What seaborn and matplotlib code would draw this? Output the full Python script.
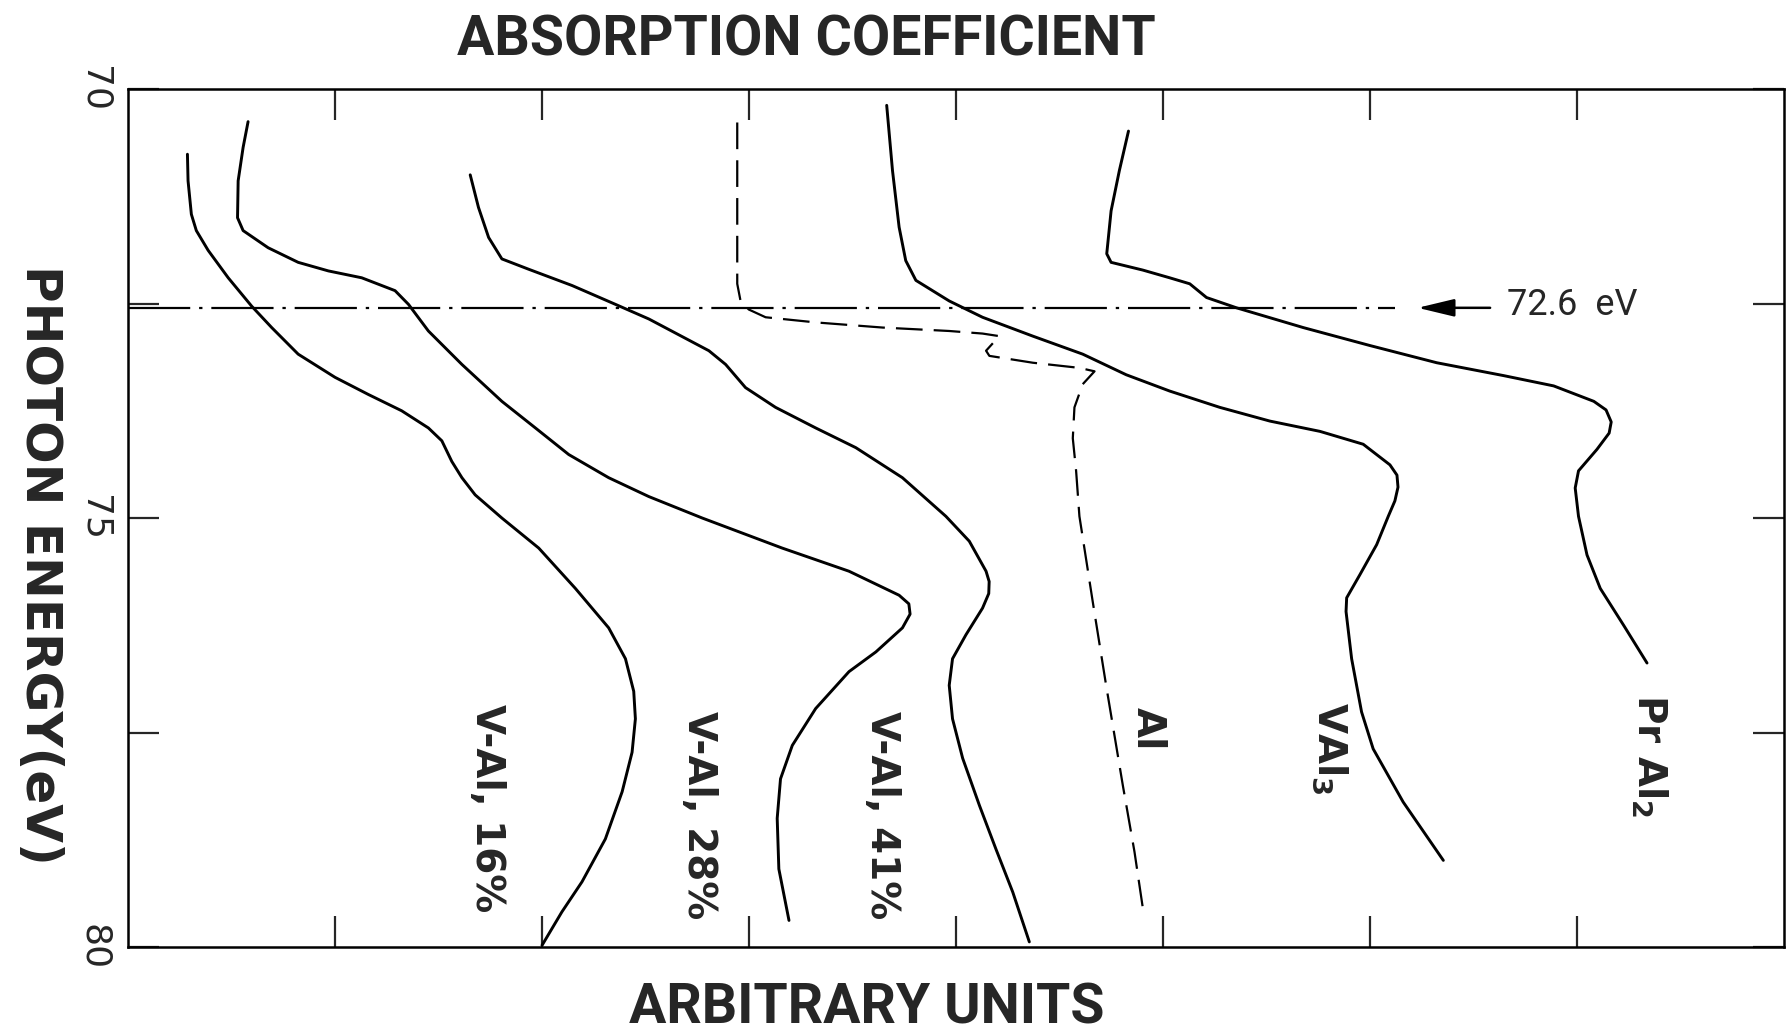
import matplotlib
matplotlib.use("Agg")
import matplotlib.pyplot as plt
import seaborn as sns
import pandas as pd

# ---------------- data (x: arbitrary units, E: photon energy in eV) ----------------
val16_x = [0.287, 0.290, 0.306, 0.330, 0.387, 0.484, 0.597, 0.694, 0.822, 1.000, 1.161, 1.322, 1.451,
           1.516, 1.564, 1.613, 1.677, 1.806, 1.984, 2.161, 2.322, 2.403, 2.443, 2.451, 2.435, 2.387,
           2.306, 2.193, 2.096, 2.000]
val16_E = [70.76, 71.07, 71.46, 71.65, 71.88, 72.20, 72.53, 72.78, 73.09, 73.36, 73.56, 73.75, 73.95,
           74.10, 74.34, 74.53, 74.73, 75.00, 75.35, 75.82, 76.28, 76.64, 77.02, 77.34, 77.73, 78.19,
           78.74, 79.24, 79.59, 79.98]

val28_x = [0.580, 0.556, 0.532, 0.529, 0.556, 0.677, 0.822, 0.968, 1.129, 1.290, 1.355, 1.451, 1.613,
           1.806, 1.968, 2.129, 2.322, 2.516, 2.774, 3.160, 3.483, 3.725, 3.772, 3.778, 3.741, 3.613,
           3.483, 3.322, 3.209, 3.152, 3.136, 3.144, 3.193]
val28_E = [70.38, 70.68, 71.07, 71.50, 71.65, 71.85, 72.02, 72.12, 72.20, 72.35, 72.51, 72.82, 73.21,
           73.64, 73.95, 74.26, 74.53, 74.75, 75.00, 75.35, 75.62, 75.90, 76.00, 76.12, 76.28, 76.56,
           76.79, 77.22, 77.65, 78.04, 78.50, 79.09, 79.69]

val41_x = [1.653, 1.693, 1.742, 1.806, 1.935, 2.145, 2.355, 2.516, 2.806, 2.887, 2.983, 3.128, 3.322,
           3.516, 3.741, 3.951, 4.064, 4.145, 4.160, 4.158, 4.128, 4.048, 3.983, 3.967, 3.983, 4.032,
           4.113, 4.193, 4.274, 4.354]
val41_E = [71.00, 71.38, 71.73, 71.98, 72.10, 72.29, 72.51, 72.68, 73.05, 73.21, 73.48, 73.71, 73.95,
           74.18, 74.53, 74.98, 75.27, 75.62, 75.74, 75.88, 76.05, 76.36, 76.64, 76.95, 77.34, 77.80,
           78.35, 78.86, 79.36, 79.94]

al_x = [2.943, 2.943, 2.943, 2.959, 2.999, 3.080, 3.322, 3.645, 3.967, 4.128, 4.209, 4.145, 4.161,
        4.371, 4.596, 4.669, 4.612, 4.572, 4.564, 4.580, 4.596, 4.660, 4.725, 4.806, 4.862, 4.902]
al_E = [70.39, 71.53, 72.27, 72.47, 72.57, 72.66, 72.72, 72.78, 72.82, 72.85, 72.88, 73.05, 73.11,
        73.19, 73.25, 73.29, 73.44, 73.71, 74.07, 74.45, 74.98, 75.97, 76.95, 78.12, 78.89, 79.54]

val3_x = [3.665, 3.693, 3.725, 3.757, 3.806, 3.967, 4.128, 4.371, 4.612, 4.822, 5.032, 5.274, 5.516,
          5.758, 5.967, 6.096, 6.130, 6.135, 6.120, 6.088, 6.032, 5.951, 5.887, 5.884, 5.911, 5.959,
          6.015, 6.160, 6.354]
val3_E = [70.19, 70.95, 71.61, 72.00, 72.23, 72.47, 72.66, 72.88, 73.09, 73.33, 73.52, 73.71, 73.87,
          73.99, 74.14, 74.38, 74.50, 74.64, 74.80, 74.98, 75.31, 75.66, 75.93, 76.09, 76.64, 77.26,
          77.69, 78.31, 78.99]

pral2_x = [4.833, 4.789, 4.749, 4.728, 4.749, 4.902, 5.032, 5.129, 5.210, 5.355, 5.677, 6.000, 6.322,
           6.645, 6.887, 7.081, 7.140, 7.165, 7.155, 7.096, 7.007, 6.991, 7.007, 7.048, 7.112, 7.225,
           7.338]
pral2_E = [70.49, 70.95, 71.42, 71.92, 72.02, 72.11, 72.20, 72.27, 72.43, 72.55, 72.78, 72.99, 73.19,
           73.34, 73.46, 73.64, 73.74, 73.88, 74.01, 74.20, 74.45, 74.65, 74.98, 75.43, 75.82, 76.25,
           76.69]

series_names = ["V-Al, 16%", "V-Al, 28%", "V-Al, 41%", "Al", "VAl3", "PrAl2"]
label_texts = ["V-Al, 16%", "V-Al, 28%", "V-Al, 41%", "Al", r"VAl$_3$", r"Pr Al$_2$"]
label_x = [1.732, 2.758, 3.643, 4.925, 5.806, 7.350]
label_E = [78.38, 78.46, 78.46, 77.46, 77.68, 77.77]

ref_energy = 72.55          # dash-dot reference line (labelled 72.6 eV)
ref_line_end = 6.12
ref_text = "72.6  eV"

y_ticks = [70, 72.5, 75, 77.5, 80]
y_ticklabels = ["70", "", "75", "", "80"]
x_ticks = [1, 2, 3, 4, 5, 6, 7]

# ---------------- figure ----------------
sns.set_style("ticks")
plt.rcParams["font.family"] = ["DejaVu Sans"]
plt.rcParams["mathtext.default"] = "regular"

fig = plt.figure(figsize=(17.88, 10.34), dpi=100)
ax = fig.add_axes([0.0716, 0.0841, 0.9262, 0.8298])

curves = [(val16_x, val16_E), (val28_x, val28_E), (val41_x, val41_E),
          (al_x, al_E), (val3_x, val3_E), (pral2_x, pral2_E)]
frames = []
for name, (xs, es) in zip(series_names, curves):
    frames.append(pd.DataFrame({"x": xs, "E": es, "series": name}))
df = pd.concat(frames, ignore_index=True)

for name in series_names:
    sub = df[df["series"] == name]
    if name == "Al":
        sns.lineplot(data=sub, x="x", y="E", sort=False, estimator=None, ax=ax,
                     color="black", lw=1.6, linestyle=(0, (12, 5)),
                     dash_joinstyle="round")
    else:
        sns.lineplot(data=sub, x="x", y="E", sort=False, estimator=None, ax=ax,
                     color="black", lw=2.1, solid_joinstyle="round",
                     solid_capstyle="round")

# reference line and arrow
ax.hlines(ref_energy, 0, ref_line_end, colors="black", lw=1.6,
          linestyles=[(0, (28, 4, 1.5, 4))])
ax.annotate("", xy=(6.23, ref_energy), xytext=(6.58, ref_energy),
            arrowprops=dict(arrowstyle="-|>,head_length=1.5,head_width=0.36",
                            lw=1.8, color="black", mutation_scale=15,
                            shrinkA=0, shrinkB=0))
ax.text(6.66, ref_energy - 0.03, ref_text, ha="left", va="center", fontsize=26,
        family=["Roboto", "DejaVu Sans"])

for t, lx, le in zip(label_texts, label_x, label_E):
    ax.text(lx, le, t, rotation=-90, ha="center", va="center", fontsize=28,
            fontweight="bold")

ax.set_xlim(0, 8.0)
ax.set_ylim(80, 70)
ax.set_xticks(x_ticks)
ax.set_xticklabels([])
ax.set_yticks(y_ticks)
ax.set_yticklabels(y_ticklabels)
ax.set_xlabel("")
ax.set_ylabel("")
ax.tick_params(axis="both", which="both", direction="in", length=22, width=1.6,
               top=True, right=True, bottom=True, left=True)
ax.tick_params(axis="y", labelrotation=-90, labelsize=26, pad=12)
for lab in ax.get_yticklabels():
    lab.set_va("center")
for sp in ax.spines.values():
    sp.set_linewidth(1.8)
    sp.set_color("black")

fig.text(0.451, 0.961, "ABSORPTION COEFFICIENT", ha="center", va="center", fontsize=40,
         fontweight="bold", family=["Roboto", "DejaVu Sans"])
fig.text(0.485, 0.025, "ARBITRARY UNITS", ha="center", va="center", fontsize=40,
         fontweight="bold", family=["Roboto", "DejaVu Sans"])
fig.text(0.0224, 0.4536, "PHOTON ENERGY(eV)", rotation=-90, ha="center", va="center",
         fontsize=36, fontweight="bold")

fig.savefig("out.png", dpi=100)
